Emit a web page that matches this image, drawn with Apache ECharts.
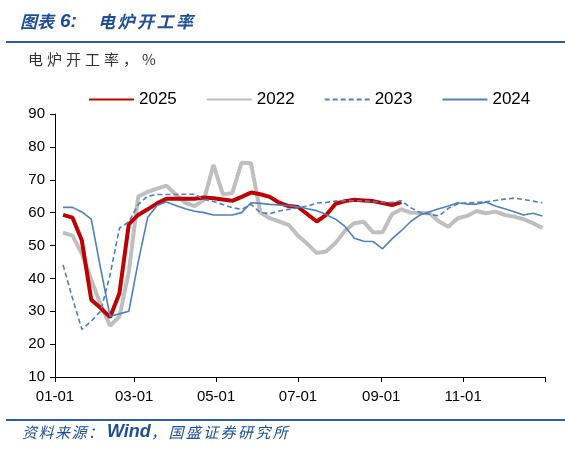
<!DOCTYPE html>
<html><head><meta charset="utf-8">
<script src="https://cdn.jsdelivr.net/npm/echarts@6/dist/echarts.min.js"></script>
<style>html,body{margin:0;padding:0;background:#fff}#c{width:565px;height:453px}</style>
</head><body><div id="c"></div>
<script>
// weekly observations; x = day of year of each week
const firstWeekDay = 6;
const weekStep = 7;
const tickDays = [0, 59, 120, 181, 243, 304, 365];
const tickLabels = ['01-01', '03-01', '05-01', '07-01', '09-01', '11-01', ''];
const yTicks = [10, 20, 30, 40, 50, 60, 70, 80, 90];
const legendNames = ['2025', '2022', '2023', '2024'];

const v2025 = [59.3, 58.5, 51.5, 33.5, 31, 28.2, 35.5, 56.5, 59.3, 61, 62.8, 64.2, 64.2, 64.2, 64.2, 64.6, 64.4, 64.0, 63.6, 64.8, 66.1, 65.6, 64.8, 63, 62, 61.7, 59.5, 57.3, 59.3, 62.7, 63.5, 63.9, 63.7, 63.5, 62.9, 62.3, 63.2];
const v2022 = [53.9, 53.0, 47.5, 39.6, 32, 25.6, 28.4, 42, 64.9, 66.3, 67.3, 68.2, 65.5, 63, 62, 63.9, 74.5, 65.6, 65.9, 75.2, 75, 60, 58.3, 57.3, 56.3, 53, 50.5, 47.7, 48.2, 50.8, 54.5, 56.8, 57.2, 54, 54, 59.5, 61, 60, 59.9, 59.8, 57.3, 55.7, 58.3, 59, 60.5, 59.8, 60.3, 59.3, 58.8, 58, 56.8, 55.3];
const v2023 = [44.1, 34, 24.5, 27, 30, 41, 55.3, 57.2, 62.5, 65, 65.5, 65.5, 65.5, 65.6, 65.6, 64, 63.4, 62.5, 61.5, 61, 62.5, 60, 59.7, 60.5, 61, 61.5, 62, 62.9, 63.1, 63.5, 63.6, 63.6, 63.6, 63.4, 63.2, 63.1, 63.6, 61.5, 60, 59.5, 59, 61.3, 62.6, 63, 63.1, 63.3, 63.7, 64.1, 64.4, 64, 63.5, 63];
const v2024 = [61.6, 61.6, 60.2, 58, 43, 28.5, 29.2, 30, 45, 58.5, 62.2, 63.2, 62.2, 61.2, 60.4, 60, 59.3, 59.3, 59.3, 60, 63, 62.8, 62.5, 62.3, 62.1, 61.8, 61.2, 60.6, 59.4, 58, 55.8, 52.2, 51.3, 51.2, 49, 52, 54.5, 57.3, 59.3, 60.3, 61.2, 62, 63, 62.6, 62.6, 63.2, 62, 61.2, 60.3, 59.3, 59.8, 59];

const toPairs = vals => vals.map((v, i) => [firstWeekDay + weekStep * i, v]);

const numFont = '"Liberation Sans", Arial, sans-serif';
const cjk = '"Noto Sans CJK SC", sans-serif';
const blueText = '#1F4E9A';

function spacedText(str, x0, yMid, adv, st) {
  return Array.from(str).map((ch, i) => ({
    type: 'text', x: x0 + i * adv, y: yMid, silent: true,
    style: Object.assign({text: ch, verticalAlign: 'middle', align: 'left'}, st)
  }));
}
const titleSt = {fontFamily: cjk, fontSize: 17, fontWeight: 'bold', fontStyle: 'italic', fill: blueText};
const subSt = {fontFamily: cjk, fontSize: 15, fontWeight: 'normal', fill: '#333'};
const srcSt = {fontFamily: cjk, fontSize: 15, fontWeight: 'normal', fontStyle: 'italic', fill: blueText};

const graphics = [
  {type: 'rect', shape: {x: 6, y: 41, width: 559, height: 2}, style: {fill: '#2E5C9E'}, silent: true},
  {type: 'rect', shape: {x: 6, y: 419, width: 559, height: 2}, style: {fill: '#2E5C9E'}, silent: true}
].concat(
  spacedText('图表', 20, 22, 17, titleSt),
  [{type: 'text', x: 60, y: 22, silent: true,
    style: {text: '6:', verticalAlign: 'middle', fontFamily: numFont, fontSize: 19, fontWeight: 'bold', fontStyle: 'italic', fill: blueText}}],
  spacedText('电炉开工率', 98, 22, 19.5, titleSt),
  spacedText('电炉开工率，%', 28, 59, 19, subSt),
  spacedText('资料来源：', 22, 432, 16.5, srcSt),
  [{type: 'text', x: 107, y: 432, silent: true,
    style: {text: 'Wind', verticalAlign: 'middle', fontFamily: numFont, fontSize: 18, fontWeight: 'bold', fontStyle: 'italic', fill: blueText}}],
  spacedText('，国盛证券研究所', 151, 432, 17.4, srcSt)
);

const chart = echarts.init(document.getElementById('c'), null, {renderer: 'canvas'});
chart.setOption({
  animation: false,
  backgroundColor: '#fff',
  graphic: graphics,
  legend: {
    data: legendNames,
    left: 83, top: 86, itemWidth: 45, itemHeight: 12, itemGap: 29,
    itemStyle: {opacity: 0},
    textStyle: {fontFamily: numFont, fontSize: 17, color: '#000'}
  },
  grid: {left: 55, right: 20, top: 114, bottom: 76, containLabel: false},
  xAxis: {
    type: 'value', min: 0, max: 365,
    axisLine: {show: true, onZero: false, lineStyle: {color: '#000', width: 1}},
    axisTick: {show: true, length: 5, inside: false, customValues: tickDays, lineStyle: {color: '#000'}},
    axisLabel: {customValues: tickDays, formatter: v => tickLabels[tickDays.indexOf(v)] || '',
      fontFamily: numFont, fontSize: 15, color: '#000', margin: 12},
    splitLine: {show: false}
  },
  yAxis: {
    type: 'value', min: yTicks[0], max: yTicks[yTicks.length - 1], interval: 10,
    axisLine: {show: true, lineStyle: {color: '#000', width: 1}},
    axisTick: {show: true, length: 5, lineStyle: {color: '#000'}},
    axisLabel: {fontFamily: numFont, fontSize: 15, color: '#000', margin: 10},
    splitLine: {show: false}
  },
  series: [
    {name: '2022', type: 'line', data: toPairs(v2022), showSymbol: false, symbol: 'none',
     lineStyle: {color: '#BFBFBF', width: 4}, itemStyle: {color: '#BFBFBF'}},
    {name: '2025', type: 'line', data: toPairs(v2025), showSymbol: false, symbol: 'none',
     lineStyle: {color: '#C00000', width: 4}, itemStyle: {color: '#C00000'}},
    {name: '2023', type: 'line', data: toPairs(v2023), showSymbol: false, symbol: 'none',
     lineStyle: {color: '#4F81BD', width: 1.6, type: [5, 3]}, itemStyle: {color: '#4F81BD'}},
    {name: '2024', type: 'line', data: toPairs(v2024), showSymbol: false, symbol: 'none',
     lineStyle: {color: '#4F81BD', width: 1.6}, itemStyle: {color: '#4F81BD'}}
  ]
});
</script>
</body></html>
